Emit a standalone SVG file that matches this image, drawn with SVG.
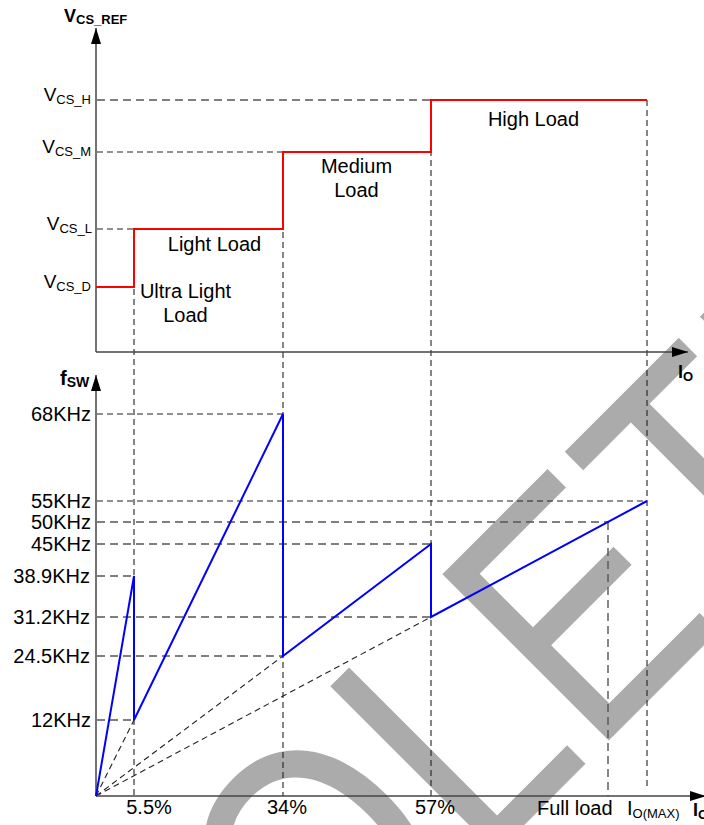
<svg xmlns="http://www.w3.org/2000/svg" width="704" height="825" viewBox="0 0 704 825">
<style>
text{font-family:"Liberation Sans",Arial,sans-serif;fill:#000}
.t{font-size:20px}
.b{font-weight:bold}
.s{font-size:13px}
.ax{stroke:#444;stroke-width:1.5;fill:none}
.dk{stroke:#222;stroke-width:1.1;stroke-dasharray:6,4;fill:none}
.gy{stroke:#555;stroke-width:1.4;stroke-dasharray:8,5;fill:none}
.red{stroke:#ff0000;stroke-width:2;fill:none}
.blue{stroke:#0000ff;stroke-width:2;fill:none;stroke-linejoin:miter}
.wm{font-size:285px;fill:#ababab}
</style>
<defs>
<marker id="arr" viewBox="0 0 16 10" refX="16" refY="5" markerWidth="16" markerHeight="10" markerUnits="userSpaceOnUse" orient="auto">
<path d="M0,0 L16,5 L0,10 Z" fill="#000"/>
</marker>
</defs>
<rect width="704" height="825" fill="#fff"/>
<g id="watermark">
<text class="wm" transform="translate(-102.2,1451.5) rotate(-45) scale(1,1.2)">OBSOLETE</text>
</g>
<g id="guides">
<line class="gy" x1="97" y1="100" x2="431" y2="100"/>
<line class="dk" x1="97" y1="152" x2="283" y2="152"/>
<line class="dk" x1="97" y1="229" x2="134" y2="229"/>
<line class="dk" x1="134" y1="229" x2="134" y2="796"/>
<line class="dk" x1="283" y1="152" x2="283" y2="796"/>
<line class="dk" x1="431" y1="100" x2="431" y2="796"/>
<line class="dk" x1="647" y1="100" x2="647" y2="790"/>
<line class="gy" x1="608" y1="522" x2="608" y2="796"/>
<line class="dk" x1="97" y1="414" x2="283" y2="414"/>
<line class="dk" x1="97" y1="501" x2="647" y2="501"/>
<line class="gy" x1="97" y1="522" x2="608" y2="522"/>
<line class="gy" x1="97" y1="544" x2="431" y2="544"/>
<line class="gy" x1="97" y1="576" x2="134" y2="576"/>
<line class="gy" x1="97" y1="617" x2="431" y2="617"/>
<line class="gy" x1="97" y1="656" x2="283" y2="656"/>
<line class="gy" x1="97" y1="720" x2="134" y2="720"/>
<line class="dk" x1="96" y1="796" x2="134" y2="720"/>
<line class="dk" x1="96" y1="796" x2="283" y2="656"/>
<line class="dk" x1="96" y1="796" x2="431" y2="617"/>
</g>
<g id="axes">
<line class="ax" x1="96" y1="352" x2="96" y2="28" marker-end="url(#arr)"/>
<line class="ax" x1="96" y1="352" x2="688" y2="352" marker-end="url(#arr)"/>
<line class="ax" x1="96" y1="796" x2="96" y2="375" marker-end="url(#arr)"/>
<line class="ax" x1="96" y1="796" x2="706" y2="796" marker-end="url(#arr)"/>
</g>
<g id="curves">
<polyline class="red" points="96,287 134,287 134,229 283,229 283,152 431,152 431,100 647,100"/>
<polyline class="blue" points="96,796 134,576 134,720 283,414 283,656 431,544 431,617 647,501"/>
</g>
<g id="labels-top">
<text class="b" x="64" y="22" font-size="18">V<tspan class="s" dy="2">CS_REF</tspan></text>
<text class="b" x="678" y="378" font-size="18">I<tspan class="s" dy="3">O</tspan></text>
<text x="91" y="101" text-anchor="end" font-size="19">V<tspan class="s" dy="3">CS_H</tspan></text>
<text x="91" y="153" text-anchor="end" font-size="19">V<tspan class="s" dy="3">CS_M</tspan></text>
<text x="92" y="230" text-anchor="end" font-size="19">V<tspan class="s" dy="3">CS_L</tspan></text>
<text x="91" y="288" text-anchor="end" font-size="19">V<tspan class="s" dy="3">CS_D</tspan></text>
<text class="t" x="214.5" y="251" text-anchor="middle">Light Load</text>
<text class="t" x="185.5" y="298" text-anchor="middle">Ultra Light</text>
<text class="t" x="185.5" y="322" text-anchor="middle">Load</text>
<text class="t" x="356.5" y="173" text-anchor="middle">Medium</text>
<text class="t" x="356.5" y="197" text-anchor="middle">Load</text>
<text class="t" x="533.5" y="126" text-anchor="middle">High Load</text>
</g>
<g id="labels-bottom">
<text class="b" x="60" y="385" font-size="20">f<tspan class="b" font-size="14" dy="2">SW</tspan></text>
<text class="t" x="91" y="421" text-anchor="end">68KHz</text>
<text class="t" x="91" y="508" text-anchor="end">55KHz</text>
<text class="t" x="91" y="529" text-anchor="end">50KHz</text>
<text class="t" x="91" y="551" text-anchor="end">45KHz</text>
<text class="t" x="90" y="583" text-anchor="end">38.9KHz</text>
<text class="t" x="90" y="624" text-anchor="end">31.2KHz</text>
<text class="t" x="90" y="663" text-anchor="end">24.5KHz</text>
<text class="t" x="91" y="727" text-anchor="end">12KHz</text>
<text class="t" x="149" y="814" text-anchor="middle">5.5%</text>
<text class="t" x="287" y="814" text-anchor="middle">34%</text>
<text class="t" x="435" y="814" text-anchor="middle">57%</text>
<text class="t" x="537" y="815">Full load</text>
<text x="627" y="815" font-size="20">I<tspan class="s" font-size="14" dy="3">O(MAX)</tspan></text>
<text class="b" x="693" y="816" font-size="18">I<tspan class="s" dy="3">O</tspan></text>
</g>
</svg>
